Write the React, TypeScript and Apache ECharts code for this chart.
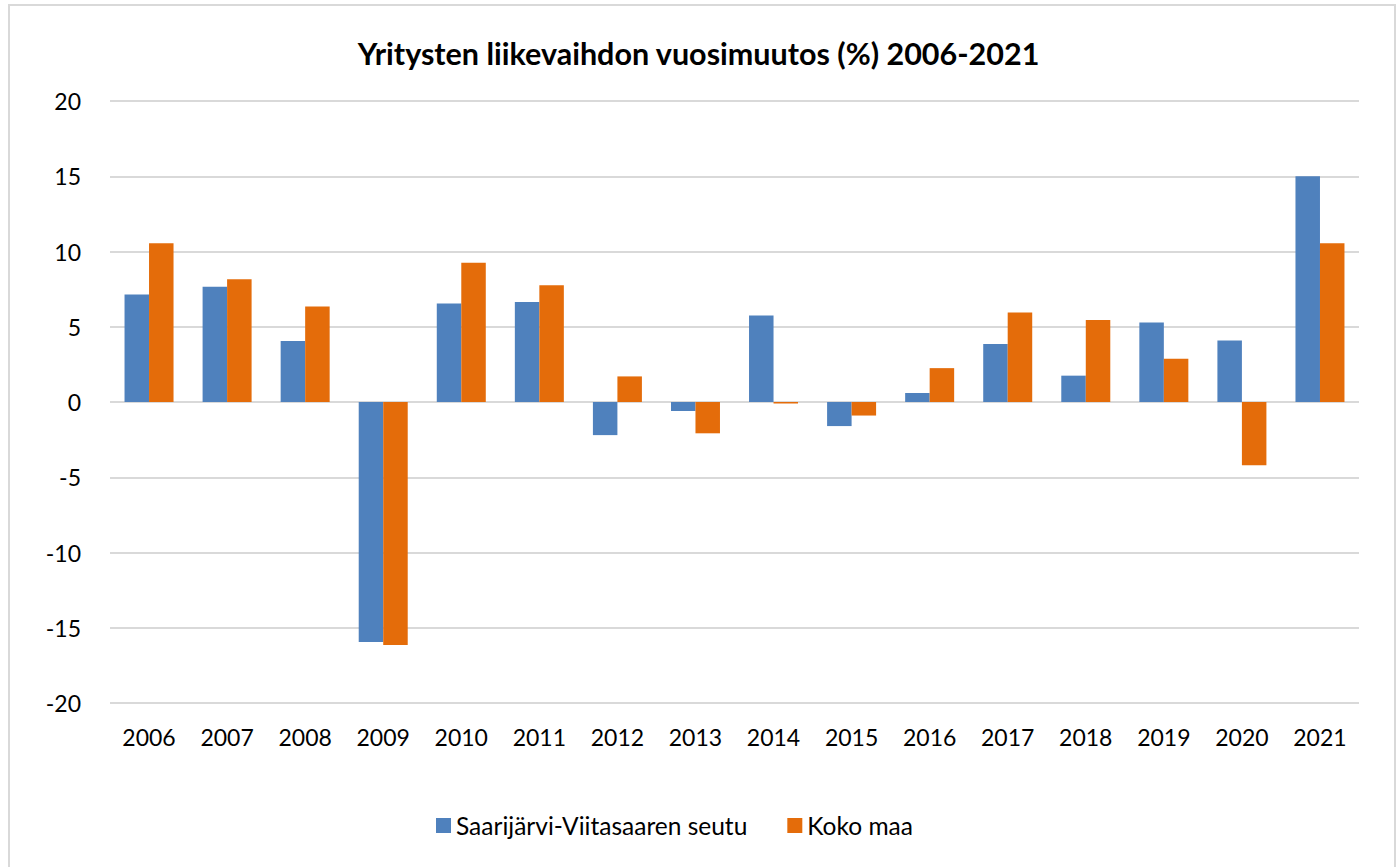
import React, { useEffect, useRef } from "react";
import * as echarts from "echarts";

const years = ["2006","2007","2008","2009","2010","2011","2012","2013","2014","2015","2016","2017","2018","2019","2020","2021"];
const seutu = [7.15, 7.65, 4.05, -15.95, 6.55, 6.65, -2.2, -0.6, 5.75, -1.6, 0.6, 3.85, 1.75, 5.28, 4.08, 15.0];
const kokoMaa = [10.55, 8.15, 6.35, -16.15, 9.25, 7.75, 1.7, -2.08, -0.1, -0.9, 2.25, 5.95, 5.45, 2.88, -4.2, 10.55];
const seriesNames = ["Saarijärvi-Viitasaaren seutu", "Koko maa"];
const titleText = "Yritysten liikevaihdon vuosimuutos (%) 2006-2021";

export default function App() {
  const ref = useRef<HTMLDivElement>(null);
  useEffect(() => {
    if (!ref.current) return;
    const chart = echarts.init(ref.current, null, { renderer: "svg" });
    const font = "Lato, 'Open Sans', sans-serif";
    chart.setOption({
      animation: false,
      backgroundColor: "#ffffff",
      title: {
        text: titleText,
        left: "center",
        top: 32,
        textStyle: { fontFamily: font, fontSize: 30.5, fontWeight: "bold", color: "#000" },
      },
      graphic: [
        {
          type: "rect",
          shape: { x: 9, y: 5, width: 1386, height: 880 },
          style: { fill: "none", stroke: "#d9d9d9", lineWidth: 2 },
          silent: true,
        },
      ],
      legend: {
        bottom: 24,
        left: 431,
        itemWidth: 15,
        itemHeight: 15,
        itemGap: 40,
        icon: "rect",
        textStyle: { fontFamily: font, fontSize: 24.5, color: "#000" },
        data: seriesNames,
      },
      grid: { left: 110, right: 38, top: 101, bottom: 164, containLabel: false },
      xAxis: {
        type: "category",
        data: years,
        axisLine: { show: false },
        axisTick: { show: false },
        axisLabel: { fontFamily: font, fontSize: 23, color: "#000", margin: 22 },
      },
      yAxis: {
        type: "value",
        min: -20,
        max: 20,
        interval: 5,
        axisLine: { show: false },
        axisTick: { show: false },
        axisLabel: { fontFamily: font, fontSize: 23, color: "#000", margin: 29 },
        splitLine: { lineStyle: { color: "#d9d9d9", width: 2 } },
      },
      series: [
        {
          name: seriesNames[0],
          type: "bar",
          data: seutu,
          barWidth: 24.5,
          barGap: "0%",
          itemStyle: { color: "#4f81bd" },
        },
        {
          name: seriesNames[1],
          type: "bar",
          data: kokoMaa,
          barWidth: 24.5,
          barGap: "0%",
          itemStyle: { color: "#e46c0a" },
        },
      ],
    });
    return () => chart.dispose();
  }, []);
  return (
    <div
      ref={ref}
      style={{ position: "fixed", left: 0, top: 0, width: 1397, height: 867 }}
    />
  );
}
